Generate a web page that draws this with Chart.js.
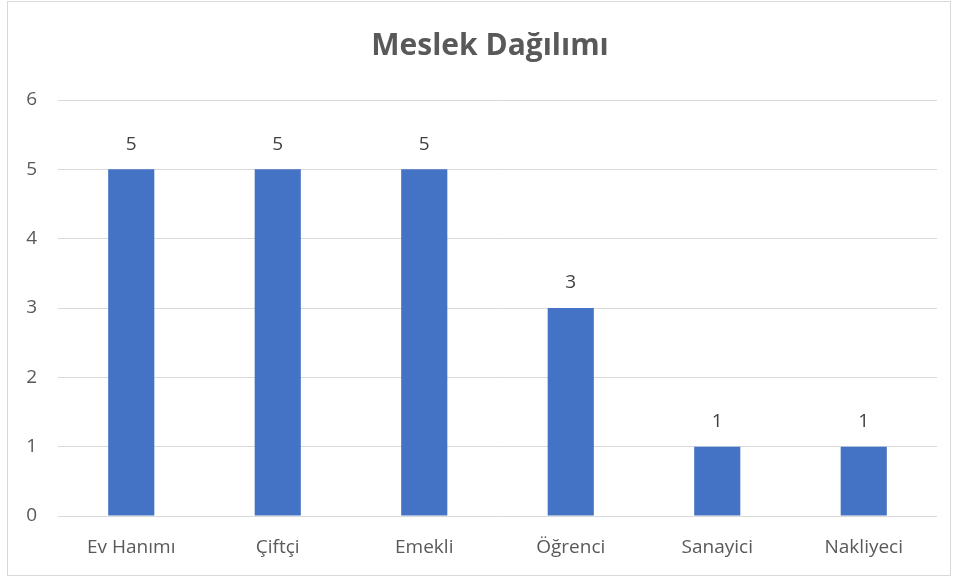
<!DOCTYPE html>
<html>
<head>
<meta charset="utf-8">
<script src="https://cdn.jsdelivr.net/npm/chart.js@4/dist/chart.umd.min.js"></script>
<style>
html,body{margin:0;padding:0;background:#fff;}
#wrap{width:957px;height:578px;position:relative;}
</style>
</head>
<body>
<div id="wrap"><canvas id="c" width="957" height="578"></canvas></div>
<script>
const titleText = 'Meslek Dağılımı';
const categories = ['Ev Hanımı', 'Çiftçi', 'Emekli', 'Öğrenci', 'Sanayici', 'Nakliyeci'];
const values = [5, 5, 5, 3, 1, 1];
const yTicks = [0, 1, 2, 3, 4, 5, 6];

const FONT = "'Open Sans', 'Liberation Sans', sans-serif";

const framePlugin = {
  id: 'frame',
  beforeDraw(chart) {
    const ctx = chart.ctx;
    ctx.save();
    ctx.fillStyle = '#ffffff';
    ctx.fillRect(0, 0, chart.width, chart.height);
    ctx.strokeStyle = '#d9d9d9';
    ctx.lineWidth = 1;
    ctx.strokeRect(7.5, 1.5, 943, 574);
    ctx.fillStyle = '#595959';
    ctx.font = "bold 30px " + FONT;
    ctx.textAlign = 'center';
    ctx.textBaseline = 'middle';
    ctx.fillText(titleText, 490, 46);
    ctx.restore();
  }
};

const labelPlugin = {
  id: 'valueLabels',
  afterDatasetsDraw(chart) {
    const ctx = chart.ctx;
    const meta = chart.getDatasetMeta(0);
    ctx.save();
    ctx.fillStyle = '#404040';
    ctx.font = "19px " + FONT;
    ctx.textAlign = 'center';
    ctx.textBaseline = 'middle';
    meta.data.forEach((bar, i) => {
      ctx.fillText(String(values[i]), bar.x, bar.y - 25);
    });
    ctx.restore();
  }
};

new Chart(document.getElementById('c'), {
  type: 'bar',
  data: {
    labels: categories,
    datasets: [{
      data: values,
      backgroundColor: '#4472c4',
      borderWidth: 0,
      barPercentage: 0.315,
      categoryPercentage: 1.0
    }]
  },
  options: {
    responsive: false,
    animation: false,
    devicePixelRatio: 1,
    layout: { padding: { top: 100, right: 20, left: 0, bottom: 0 } },
    plugins: { legend: { display: false }, title: { display: false }, tooltip: { enabled: false } },
    scales: {
      x: {
        grid: { display: false, drawTicks: false },
        border: { display: false },
        ticks: { color: '#595959', font: { family: FONT, size: 19 }, padding: 20, maxRotation: 0 },
        afterFit(scale) { scale.height = 62; }
      },
      y: {
        min: 0, max: 6,
        afterBuildTicks(scale) { scale.ticks = yTicks.map(v => ({ value: v })); },
        grid: { color: '#d9d9d9', lineWidth: 1, drawTicks: false },
        border: { display: false },
        ticks: { color: '#595959', font: { family: FONT, size: 19 }, padding: 21 },
        afterFit(scale) { scale.width = 58; }
      }
    }
  },
  plugins: [framePlugin, labelPlugin]
});
</script>
</body>
</html>
